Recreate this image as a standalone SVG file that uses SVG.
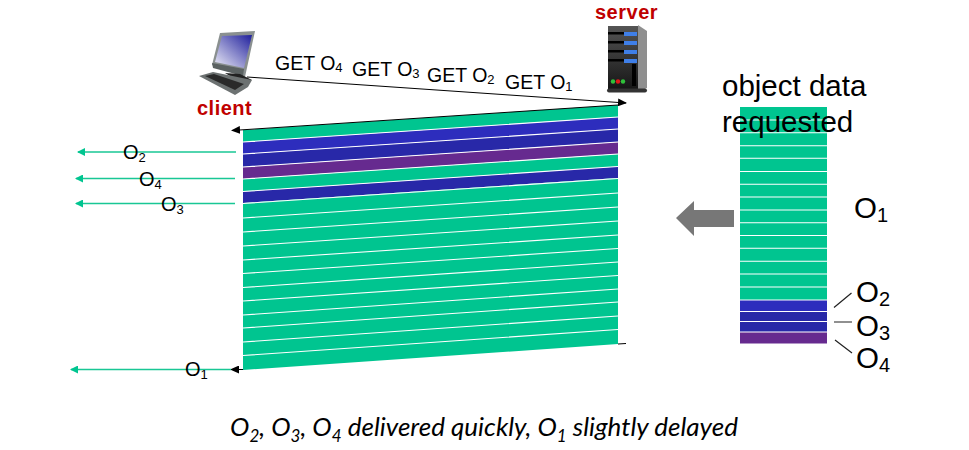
<svg xmlns="http://www.w3.org/2000/svg" width="969" height="450" viewBox="0 0 969 450">
<style>
.t{font-family:"Liberation Sans",Arial,sans-serif;fill:#000}
.get{font-size:19.500px}
.o{font-size:20px}
.big{font-size:29.500px}
.lbl{font-family:"Liberation Sans",Arial,sans-serif;font-weight:700;font-size:20px;letter-spacing:.5px;fill:#c00000}
.cap{font-family:Lato,"Open Sans",sans-serif;font-style:italic;font-size:26px;fill:#000}
.g{fill:#00c590}.b1{fill:#2d2dbd}.b2{fill:#2828a8}.p{fill:#662a8f}
.div{stroke:#fff;stroke-width:1.1;fill:none}
.bk{stroke:#000;stroke-width:1;fill:none}
.gl{stroke:#19c795;stroke-width:1.3;fill:none}
.tick{stroke:#222;stroke-width:1.2;fill:none}
</style>
<defs>
<marker id="ab" markerUnits="userSpaceOnUse" markerWidth="9" markerHeight="8" refX="8" refY="4" orient="auto"><path d="M0 0L9 4L0 8Z" fill="#000"/></marker>
<marker id="ag" markerUnits="userSpaceOnUse" markerWidth="8" markerHeight="8" refX="7" refY="4" orient="auto"><path d="M0 0L8 4L0 8Z" fill="#00c590"/></marker>
<linearGradient id="scr" x1="1" y1="0" x2="0" y2="1"><stop offset="0" stop-color="#1f1f9c"/><stop offset="1" stop-color="#eeeef8"/></linearGradient>
<linearGradient id="srv" x1="0" y1="0" x2="0" y2="1"><stop offset="0" stop-color="#555"/><stop offset="1" stop-color="#151515"/></linearGradient>
</defs>

<g id="client">
<path d="M220 33L255 31L245 77L212 65Z" fill="#8a9090"/>
<path d="M222 36L252 35L244 68L215 62Z" fill="url(#scr)"/>
<path d="M212 63L244 69L243 76L213 68Z" fill="#5b6262"/>
<path d="M225 73L240 74L252 80L238 81Z" fill="#222"/>
<path d="M199 76L213 72L252 80L248 87L235 95Z" fill="#6d7272"/>
<path d="M205 76L214 74L244 84L235 90Z" fill="#2a2a2a"/>
<text class="lbl" x="197" y="115">client</text>
</g>

<g id="server">
<path d="M638 25L647 31L647 88L638 92Z" fill="#8f8f8f"/>
<rect x="608" y="26" width="30" height="64" fill="url(#srv)"/>
<g fill="#3f7fe8"><rect x="624" y="32" width="13" height="4"/><rect x="624" y="41" width="13" height="4"/><rect x="624" y="50" width="13" height="4"/><rect x="624" y="59" width="13" height="4"/></g>
<g fill="#000"><rect x="608" y="32" width="16" height="2.500"/><rect x="608" y="41" width="16" height="2.500"/><rect x="608" y="50" width="16" height="2.500"/><rect x="608" y="59" width="16" height="2.500"/><rect x="632" y="64" width="4" height="22"/></g>
<circle cx="613" cy="81.500" r="2.200" fill="#2fc23a"/><circle cx="618" cy="81.500" r="2.200" fill="#e01818"/><circle cx="623" cy="81.500" r="2.200" fill="#2fc23a"/>
<rect x="607" y="88.500" width="40" height="4" rx="2" fill="#333"/>
<text class="lbl" x="595" y="18.500">server</text>
</g>

<g id="stream">
<polygon class="g" points="243,130 618,105 618,117 243,142"/>
<polygon class="b1" points="243,142 618,117 618,129 243,154"/>
<polygon class="b2" points="243,154 618,129 618,142 243,167"/>
<polygon class="p" points="243,167 618,142 618,154 243,179"/>
<polygon class="g" points="243,179 618,154 618,166.500 243,191.500"/>
<polygon class="b2" points="243,191.500 618,166.500 618,178 243,203"/>
<polygon class="g" points="243,203 618,178 618,344 243,370"/>
<path class="div" d="M243 142L618 117M243 154L618 129M243 167L618 142M243 179L618 154M243 191.500L618 166.500M243 203.500L618 178.500M243 218L618 193M243 232L618 207M243 246L618 221M243 260L618 235M243 273.500L618 248.500M243 287.500L618 262M243 301L618 275.500M243 315L618 289M243 328L618 302M243 342L618 316M243 355.500L618 329.500"/>
<path class="bk" d="M618 344L626 343.500"/>
</g>

<g id="stack">
<rect class="g" x="740" y="107" width="87" height="193"/>
<rect class="b1" x="740" y="300" width="87" height="11.500"/>
<rect class="b2" x="740" y="311.500" width="87" height="10"/>
<rect class="b2" x="740" y="321.500" width="87" height="10.500"/>
<rect class="p" x="740" y="332" width="87" height="11.500"/>
<path class="div" d="M740 120H827M740 132.700H827M740 145.700H827M740 158.300H827M740 171.500H827M740 184.300H827M740 197H827M740 210H827M740 222.700H827M740 235.500H827M740 248.300H827M740 261.300H827M740 274H827M740 287H827M740 300H827M740 311.500H827M740 321.500H827M740 332H827"/>
<text class="t big" x="722" y="96">object data</text>
<text class="t big" x="722" y="131.500">requested</text>
<text class="t big" x="854" y="218">O<tspan font-size="20" dy="4">1</tspan></text>
<text class="t big" x="856" y="302">O<tspan font-size="20" dy="4">2</tspan></text>
<text class="t big" x="856" y="336">O<tspan font-size="20" dy="4">3</tspan></text>
<text class="t big" x="856" y="368">O<tspan font-size="20" dy="4">4</tspan></text>
<path class="tick" d="M851.500 293L834 307.500M834 322H852M835 340L852 353"/>
</g>

<g id="bigarrow"><polygon points="734,210 694,210 694,201 676,218 694,236 694,227 734,227" fill="#777"/></g>

<g id="connectors">
<path class="bk" d="M247 77L626 103" marker-end="url(#ab)"/>
<path class="bk" d="M618 105L232 130.500" marker-end="url(#ab)"/>
<path class="bk" d="M243 369.500L231 369.500" marker-end="url(#ab)"/>
<path class="gl" d="M236 152H78" marker-end="url(#ag)"/>
<path class="gl" d="M235 178.500H76" marker-end="url(#ag)"/>
<path class="gl" d="M235 203.500H76" marker-end="url(#ag)"/>
<path class="gl" d="M231 369.500H71" marker-end="url(#ag)"/>
</g>

<g id="labels">
<text class="t get" x="275" y="70">GET O<tspan font-size="13" dy="2">4</tspan></text>
<text class="t get" x="352" y="76">GET O<tspan font-size="13" dy="2">3</tspan></text>
<text class="t get" x="427" y="82">GET O<tspan font-size="13" dy="2">2</tspan></text>
<text class="t get" x="505" y="89">GET O<tspan font-size="13" dy="2">1</tspan></text>
<text class="t o" x="123" y="159">O<tspan font-size="13" dy="3">2</tspan></text>
<text class="t o" x="139" y="186">O<tspan font-size="13" dy="3">4</tspan></text>
<text class="t o" x="161" y="211">O<tspan font-size="13" dy="3">3</tspan></text>
<text class="t o" x="185" y="376">O<tspan font-size="13" dy="3">1</tspan></text>
<text class="cap" x="230" y="436">O<tspan font-size="17" dy="6">2</tspan><tspan dy="-6">, O</tspan><tspan font-size="17" dy="6">3</tspan><tspan dy="-6">, O</tspan><tspan font-size="17" dy="6">4</tspan><tspan dy="-6"> delivered quickly, O</tspan><tspan font-size="17" dy="6">1</tspan><tspan dy="-6"> slightly delayed</tspan></text>
</g>
</svg>
